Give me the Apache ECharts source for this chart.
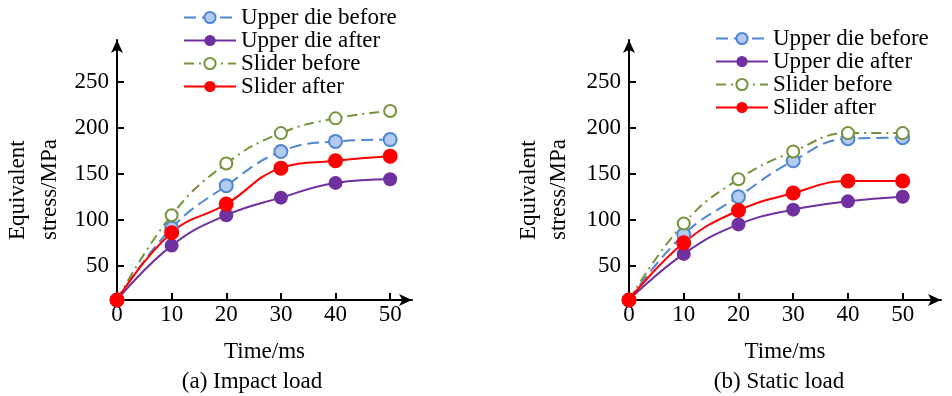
<!DOCTYPE html>
<html>
<head>
<meta charset="utf-8">
<script src="https://cdn.jsdelivr.net/npm/echarts@6/dist/echarts.min.js"></script>
<style>
  html, body { margin: 0; padding: 0; background: #fff; }
  #chart { width: 952px; height: 396px; }
</style>
</head>
<body>
<div id="chart"></div>
<script>
// time points (ms)
const times = [0, 10, 20, 30, 40, 50];
const xTicks = [0, 10, 20, 30, 40, 50];
const yTicks = [50, 100, 150, 200, 250];

// (a) impact load, equivalent stress in MPa
const impactUpperBefore = [13, 91, 137, 174, 185, 187];
const impactUpperAfter = [13, 72, 105, 124, 140, 144];
const impactSliderBefore = [13, 105, 161, 194, 210, 218];
const impactSliderAfter = [13, 86, 117, 156, 164, 169];

// (b) static load
const staticUpperBefore = [13, 84, 125, 164, 188, 189];
const staticUpperAfter = [13, 63, 95, 111, 120, 125];
const staticSliderBefore = [13, 96, 144, 174, 194, 194];
const staticSliderAfter = [13, 75, 110, 129, 142, 142];

const names = ['Upper die before', 'Upper die after', 'Slider before', 'Slider after'];
const FONT = '"Liberation Serif", "Times New Roman", serif';
const FS = 23;

const pairs = (ys) => times.map((t, i) => [t, ys[i]]);

// line + marker style for each of the four curves
const styles = [
  { color: '#4f86d6', type: [12, 6], symbolColor: '#b3cbef', border: '#4f86d6', size: 13 },
  { color: '#7030a0', type: 'solid', symbolColor: '#7030a0', border: '#7030a0', size: 14 },
  { color: '#77933c', type: [10, 5, 2, 5], symbolColor: '#ffffff', border: '#77933c', size: 12 },
  { color: '#ff0000', type: 'solid', symbolColor: '#ff0000', border: '#ff0000', size: 15 }
];

const makeSeries = (idx, sets) => sets.map((ys, k) => ({
  name: names[k],
  type: 'line',
  xAxisIndex: idx,
  yAxisIndex: idx,
  data: pairs(ys),
  smooth: 0.45,
  symbol: 'circle',
  symbolSize: styles[k].size,
  color: styles[k].color,
  lineStyle: { color: styles[k].color, width: 2, type: styles[k].type },
  itemStyle: {
    color: styles[k].symbolColor,
    borderColor: styles[k].border,
    borderWidth: k === 1 || k === 3 ? 0 : 2
  }
}));

const axisLine = {
  show: true,
  lineStyle: { color: '#000', width: 2 },
  symbol: ['none', 'arrow'],
  symbolSize: [9, 13]
};

const xAxisOf = (idx, max) => ({
  gridIndex: idx,
  type: 'value',
  min: 0,
  max: max,
  name: 'Time/ms',
  nameLocation: 'middle',
  nameGap: 40,
  nameTextStyle: { fontFamily: FONT, fontSize: FS, color: '#000' },
  axisLine: axisLine,
  axisTick: { show: true, inside: true, length: 7, customValues: xTicks, lineStyle: { color: '#000', width: 2 } },
  axisLabel: { customValues: xTicks, fontFamily: FONT, fontSize: FS, color: '#000', margin: 3 },
  splitLine: { show: false }
});

const yAxisOf = (idx) => ({
  gridIndex: idx,
  type: 'value',
  min: 13,
  max: 295,
  axisLine: axisLine,
  axisTick: { show: true, inside: true, length: 7, customValues: yTicks, lineStyle: { color: '#000', width: 2 } },
  axisLabel: { customValues: yTicks, fontFamily: FONT, fontSize: FS, color: '#000', margin: 8 },
  splitLine: { show: false }
});

const legendOf = (left, top) => ({
  orient: 'vertical',
  left: left,
  top: top,
  padding: 0,
  itemWidth: 52,
  itemHeight: 14,
  itemGap: 0,
  textStyle: { fontFamily: FONT, fontSize: FS, color: '#000', lineHeight: 23 },
  data: names
});

const chart = echarts.init(document.getElementById('chart'));
chart.setOption({
  animation: false,
  backgroundColor: '#fff',
  title: [
    { text: '(a) Impact load', left: 247, top: 365, textAlign: 'center',
      textStyle: { fontFamily: FONT, fontSize: FS, fontWeight: 'normal', color: '#000' } },
    { text: '(b) Static load', left: 774, top: 365, textAlign: 'center',
      textStyle: { fontFamily: FONT, fontSize: FS, fontWeight: 'normal', color: '#000' } }
  ],
  legend: [legendOf(183, 6), legendOf(715, 27)],
  grid: [
    { left: 117, top: 40, width: 295, height: 260 },
    { left: 629, top: 40, width: 312, height: 260 }
  ],
  xAxis: [xAxisOf(0, 54), xAxisOf(1, 57)],
  yAxis: [yAxisOf(0), yAxisOf(1)],
  graphic: [
    { type: 'text', x: 34, y: 240, rotation: Math.PI / 2,
      style: { text: 'Equivalent\nstress/MPa', font: FS + 'px ' + FONT, fill: '#000',
        align: 'left', verticalAlign: 'middle', lineHeight: 32 } },
    { type: 'text', x: 544, y: 240, rotation: Math.PI / 2,
      style: { text: 'Equivalent\nstress/MPa', font: FS + 'px ' + FONT, fill: '#000',
        align: 'left', verticalAlign: 'middle', lineHeight: 30 } }
  ],
  series: [
    ...makeSeries(0, [impactUpperBefore, impactUpperAfter, impactSliderBefore, impactSliderAfter]),
    ...makeSeries(1, [staticUpperBefore, staticUpperAfter, staticSliderBefore, staticSliderAfter])
  ]
});
</script>
</body>
</html>
